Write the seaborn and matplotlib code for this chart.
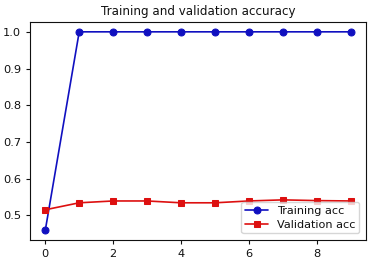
import matplotlib
matplotlib.use("Agg")
import matplotlib.pyplot as plt
import seaborn as sns
import pandas as pd

epochs = [0, 1, 2, 3, 4, 5, 6, 7, 8, 9]
train_acc = [0.459, 1.0, 1.0, 1.0, 1.0, 1.0, 1.0, 1.0, 1.0, 1.0]
val_acc = [0.515, 0.534, 0.539, 0.539, 0.534, 0.534, 0.539, 0.542, 0.540, 0.539]

sns.set_style("ticks")
plt.rcParams['font.family'] = ['DejaVu Sans']
plt.rcParams['text.color'] = '#111111'
plt.rcParams['xtick.color'] = '#111111'
plt.rcParams['ytick.color'] = '#111111'
plt.rcParams['axes.edgecolor'] = '#111111'

df = pd.DataFrame({"epoch": epochs, "train": train_acc, "val": val_acc})

fig, ax = plt.subplots(figsize=(3.75, 2.64), dpi=100)
sns.lineplot(data=df, x="epoch", y="train", ax=ax, color="#1010c0", marker="o",
             markersize=5, markeredgecolor="#1010c0", linewidth=1.2, label="Training acc")
sns.lineplot(data=df, x="epoch", y="val", ax=ax, color="#dd1010", marker="s",
             markersize=5, markeredgecolor="#dd1010", linewidth=1.2, label="Validation acc")

ax.set_title("Training and validation accuracy", fontsize=8.6, pad=5)
ax.set_xlabel("")
ax.set_ylabel("")
ax.set_xticks([0, 2, 4, 6, 8])
ax.set_yticks([0.5, 0.6, 0.7, 0.8, 0.9, 1.0])
ax.tick_params(labelsize=8.2, length=3, width=0.8)
for s in ax.spines.values():
    s.set_linewidth(0.8)
leg = ax.legend(loc="lower right", fontsize=8.1, frameon=True, borderpad=0.35,
                handlelength=2, labelspacing=0.3, borderaxespad=0.6)
leg.get_frame().set_edgecolor("#cccccc")
fig.subplots_adjust(left=0.08, right=0.976, top=0.917, bottom=0.09)
fig.savefig("out.png", dpi=100)
